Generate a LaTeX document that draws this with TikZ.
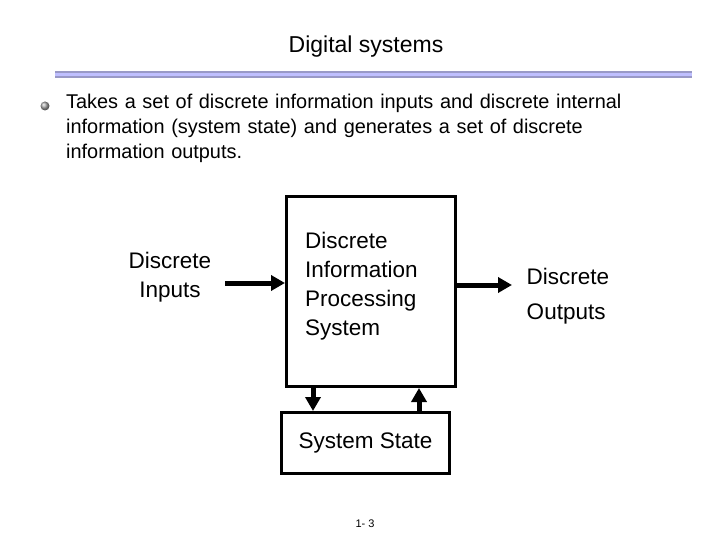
\documentclass[tikz,border=0pt]{standalone}
\usepackage{fontspec}
\setmainfont{Liberation Sans}
\usetikzlibrary{arrows.meta}
\begin{document}
\begin{tikzpicture}[x=1pt,y=-1pt,
  txt/.style={inner sep=0pt,font=\fontsize{19.9}{25}\selectfont},
  dtxt/.style={inner sep=0pt,font=\fontsize{22.5}{29}\selectfont},
  box/.style={draw,line width=3pt},
  conn/.style={line width=5pt,-{Triangle[length=14pt,width=15pt]}}]
\useasboundingbox (0,0) rectangle (720,540);
\node[txt,font=\fontsize{23}{25}\selectfont] (title) at (366,47) {Digital systems};
% rule
\fill[black!55!blue!40] (55,71) rectangle (692,78);
\fill[blue!25] (55,73) rectangle (692,76);
\shade[ball color=gray!70] (45,106) circle (4.5);
\node[txt,anchor=north west,align=left,text width=620] (para) at (66,94)
 {Takes a set of discrete information inputs and discrete internal\\
  information (system state) and generates a set of discrete\\
  information outputs.};
\node[box,minimum width=169,minimum height=190,anchor=north west] (proc) at (285,195) {};
\node[dtxt,align=left,anchor=west] (proct) at (305,286) {Discrete\\Information\\Processing\\System};
\node[box,minimum width=168,minimum height=61,anchor=north west,dtxt] (state) at (280,411) {System State};
\node[dtxt,align=center] (inp) at (170,277) {Discrete\\Inputs};
\node[dtxt,align=left,font=\fontsize{22.5}{35}\selectfont] (outp) at (568,296) {Discrete\\Outputs};
\coordinate (a1) at (225,283);
\draw[conn] (a1) -- (proc.west |- a1);
\coordinate (b1) at (512,285);
\draw[conn] (proc.east |- b1) -- (b1);
\draw[conn] (proc.south -| 313,0) -- (state.north -| 313,0);
\draw[conn] (state.north -| 419,0) -- (proc.south -| 419,0);
\node[inner sep=0pt,font=\fontsize{11}{12}\selectfont] (pg) at (365,524) {1- 3};
\end{tikzpicture}
\end{document}
